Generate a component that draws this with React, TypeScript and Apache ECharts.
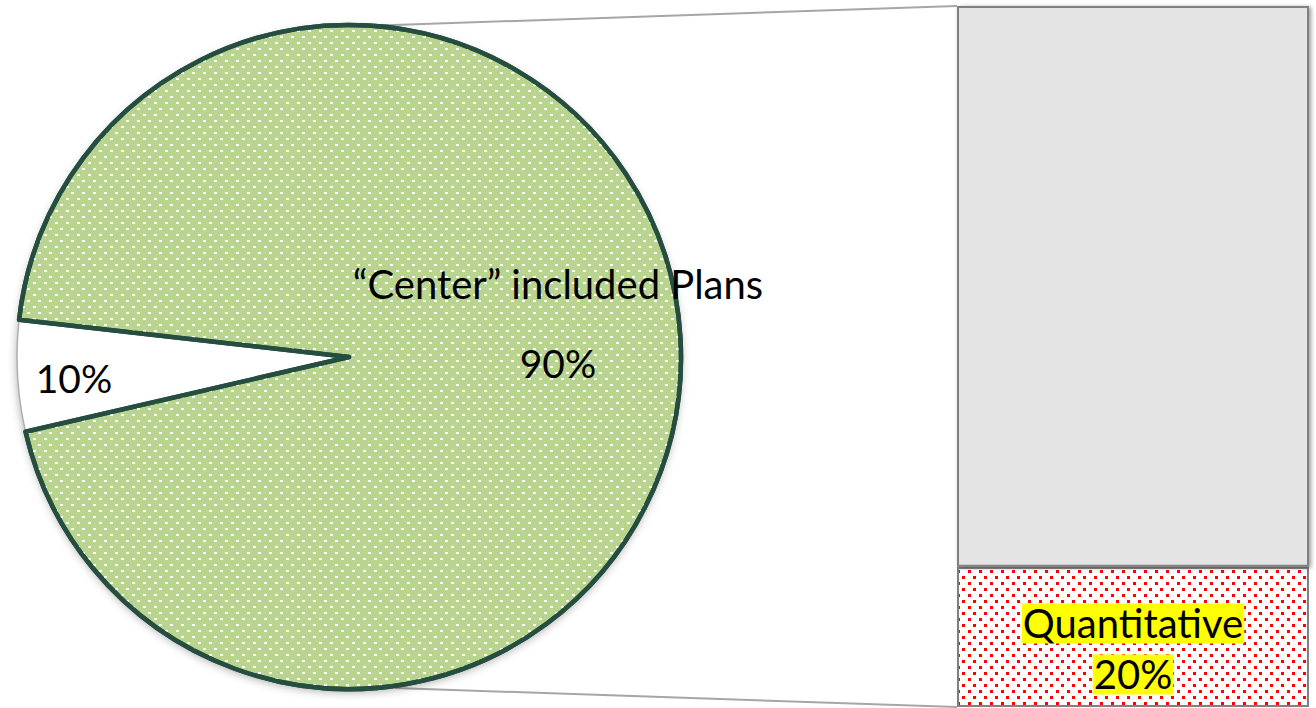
import React, { useEffect, useRef } from "react";
import * as echarts from "echarts";

// Pie: the white slice is the part broken out into the bar on the right.
const pieNames = ["Other", "“Center” included Plans"];
// shares as drawn (angle of the white wedge)
const pieValues = [5.4, 94.6];
const pieLabels = ["10%", "90%"];

// Bar of the broken-out slice
const barCategory = ["Breakdown"];
const barNames = ["Quantitative", "Qualitative"];
const barValues = [20, 80];
const barLabels = ["20%", "80%"];

const FONT = "Lato, 'Open Sans', sans-serif";

export default function App() {
  const ref = useRef<HTMLDivElement>(null);

  useEffect(() => {
    if (!ref.current) return;
    const chart = echarts.init(ref.current, undefined, { renderer: "svg" });

    const cx = 349;
    const cy = 357;
    const r = 332;
    const labelPos = [
      { x: 74, y: 378 },
      { x: 558, y: 323 },
    ];

    const option: any = {
      animation: false,
      backgroundColor: "#ffffff",
      grid: { left: 957, top: 6, width: 352, height: 701, containLabel: false },
      xAxis: { type: "category", data: barCategory, show: false },
      yAxis: { type: "value", min: 0, max: 100, show: false },
      graphic: [
        {
          type: "line",
          z: 0,
          shape: { x1: 365, y1: 26, x2: 957, y2: 6 },
          style: { stroke: "#A6A6A6", lineWidth: 2 },
        },
        {
          type: "line",
          z: 0,
          shape: { x1: 395, y1: 688, x2: 957, y2: 707 },
          style: { stroke: "#A6A6A6", lineWidth: 2 },
        },
      ],
      series: [
        // shadow layer beneath the pie
        {
          type: "pie",
          z: 4,
          silent: true,
          center: [cx, cy],
          radius: r,
          label: { show: false },
          labelLine: { show: false },
          emphasis: { disabled: true },
          data: [
            {
              name: "shadow",
              value: 100,
              itemStyle: {
                color: "#ffffff",
                borderWidth: 0,
                shadowBlur: 10,
                shadowColor: "rgba(0,0,0,0.35)",
                shadowOffsetY: 3,
              },
            },
          ],
        },
        {
          type: "pie",
          z: 5,
          center: [cx, cy],
          radius: r,
          startAngle: 193,
          clockwise: true,
          avoidLabelOverlap: false,
          emphasis: { disabled: true },
          labelLine: { show: false },
          label: {
            show: true,
            position: "inside",
            color: "#000",
            fontFamily: FONT,
            fontSize: 39,
          },
          labelLayout: (params: any) => ({
            x: labelPos[params.dataIndex].x,
            y: labelPos[params.dataIndex].y,
            align: "center",
            verticalAlign: "middle",
          }),
          data: [
            {
              name: pieNames[0],
              value: pieValues[0],
              itemStyle: {
                color: "#ffffff",
                borderColor: "#B0B0B0",
                borderWidth: 1.5,
              },
              label: { formatter: pieLabels[0] },
            },
            {
              name: pieNames[1],
              value: pieValues[1],
              itemStyle: {
                color: "#B8D48E",
                borderColor: "#264E40",
                borderWidth: 4.5,
                decal: {
                  symbol: "rect",
                  symbolSize: 1,
                  color: "#ffffff",
                  dashArrayX: [
                    [3, 8],
                    [0, 5, 3, 3],
                  ],
                  dashArrayY: [2, 4],
                },
              },
              label: {
                formatter: "{n|" + pieNames[1] + "}\n{v|" + pieLabels[1] + "}",
                rich: {
                  n: { fontFamily: FONT, fontSize: 40, color: "#000", lineHeight: 79 },
                  v: { fontFamily: FONT, fontSize: 39, color: "#000", lineHeight: 79 },
                },
              },
            },
          ],
        },
        {
          type: "bar",
          name: barNames[0],
          stack: "b",
          barWidth: "100%",
          z: 3,
          data: [barValues[0]],
          itemStyle: {
            color: "#ffffff",
            borderColor: "#808080",
            borderWidth: 2,
            decal: {
              symbol: "rect",
              symbolSize: 1,
              color: "#FF0000",
              dashArrayX: [
                [3, 8],
                [0, 5, 3, 3],
              ],
              dashArrayY: [3, 3],
            },
          },
          label: {
            show: true,
            position: "inside",
            offset: [0, 12],
            formatter: "{a|" + barNames[0] + "}\n{a|" + barLabels[0] + "}",
            rich: {
              a: {
                fontFamily: FONT,
                fontSize: 40,
                color: "#000",
                backgroundColor: "#FFFF00",
                lineHeight: 51,
                padding: [0, 1],
              },
            },
          },
          emphasis: { disabled: true },
        },
        {
          type: "bar",
          name: barNames[1],
          stack: "b",
          barWidth: "100%",
          z: 3,
          data: [barValues[1]],
          itemStyle: {
            color: "#E4E4E4",
            borderColor: "#808080",
            borderWidth: 2,
            shadowBlur: 4,
            shadowOffsetX: 2,
            shadowOffsetY: 1,
            shadowColor: "rgba(0,0,0,0.4)",
          },
          label: { show: false },
          emphasis: { disabled: true },
        },
      ],
    };

    chart.setOption(option);
    return () => chart.dispose();
  }, []);

  return (
    <div
      ref={ref}
      style={{ position: "absolute", left: 0, top: 0, width: 1316, height: 708 }}
    />
  );
}
